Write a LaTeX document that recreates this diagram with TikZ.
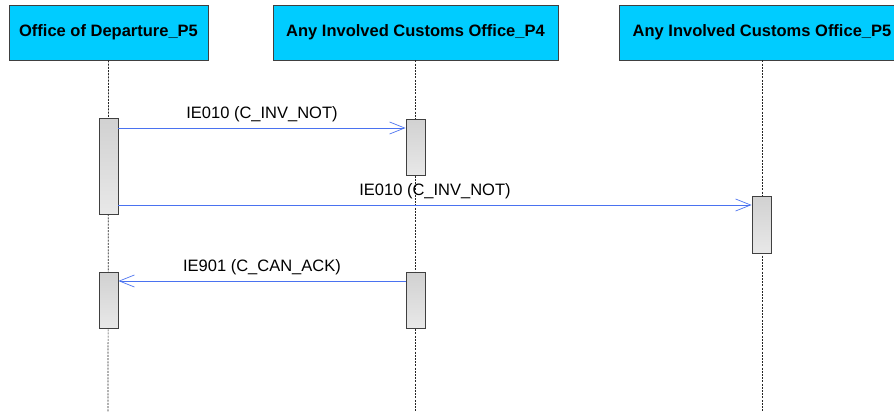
\documentclass[tikz,border=0pt]{standalone}
\usepackage{fontspec}
\setmainfont{Liberation Sans}
\usetikzlibrary{arrows.meta}
\definecolor{hdr}{HTML}{00CCFF}
\definecolor{msg}{HTML}{4A72F0}
\definecolor{edge}{HTML}{404040}
\tikzset{
  header/.style={draw=edge, line width=0.9pt, fill=hdr, minimum height=55pt, inner sep=0pt, font=\fontsize{16.5}{19}\selectfont\bfseries},
  life/.style={dash pattern=on 2pt off 1.2pt, line width=0.7pt, black!85},
  actbox/.style={draw=edge, line width=0.9pt, top color=black!18, bottom color=black!9, minimum width=19pt, inner sep=0pt},
  msgline/.style={draw=msg, line width=0.7pt, -{Straight Barb[length=15pt,width=12pt,line width=0.7pt]}},
  lbl/.style={font=\fontsize{16.5}{19}\selectfont, inner sep=0pt}
}
\begin{document}
\begin{tikzpicture}[x=1pt,y=-1pt]
\useasboundingbox (0,0) rectangle (894,412);
\clip (0,0) rectangle (894,412);
\fill[white] (0,0) rectangle (894,412);
% lifelines
\coordinate (b1) at (108,412);
\coordinate (b2) at (415.5,412);
\coordinate (b3) at (762,412);
\node[header, minimum width=199pt] (h1) at (108.5,32.5) {Office of Departure\_P5};
\node[header, minimum width=285pt] (h2) at (415.5,32.5) {Any Involved Customs Office\_P4};
\node[header, minimum width=286pt] (h3) at (762,32.5) {Any Involved Customs Office\_P5};
\draw[life] (h1.south) -- (b1);
\draw[life] (h2.south) -- (b2);
\draw[life] (h3.south) -- (b3);
% activations
\node[actbox, minimum height=96pt] (a1) at (108.5,166) {};
\node[actbox, minimum height=56pt] (a2) at (108.5,300) {};
\node[actbox, minimum height=56pt] (c1) at (415.5,147) {};
\node[actbox, minimum height=56pt] (c2) at (415.5,300) {};
\node[actbox, minimum height=57pt] (d1) at (761.5,224.5) {};
% messages
\draw[msgline] (a1.east |- 0,128) -- node[lbl, above=5.5pt, black] {IE010 (C\_INV\_NOT)} (c1.west |- 0,128);
\draw[msgline] (a1.east |- 0,205) -- node[lbl, above=5.5pt, black] {IE010 (C\_INV\_NOT)} (d1.west |- 0,205);
\draw[msgline] (c2.west |- 0,281) -- node[lbl, above=5.5pt, black] {IE901 (C\_CAN\_ACK)} (a2.east |- 0,281);
\end{tikzpicture}
\end{document}
